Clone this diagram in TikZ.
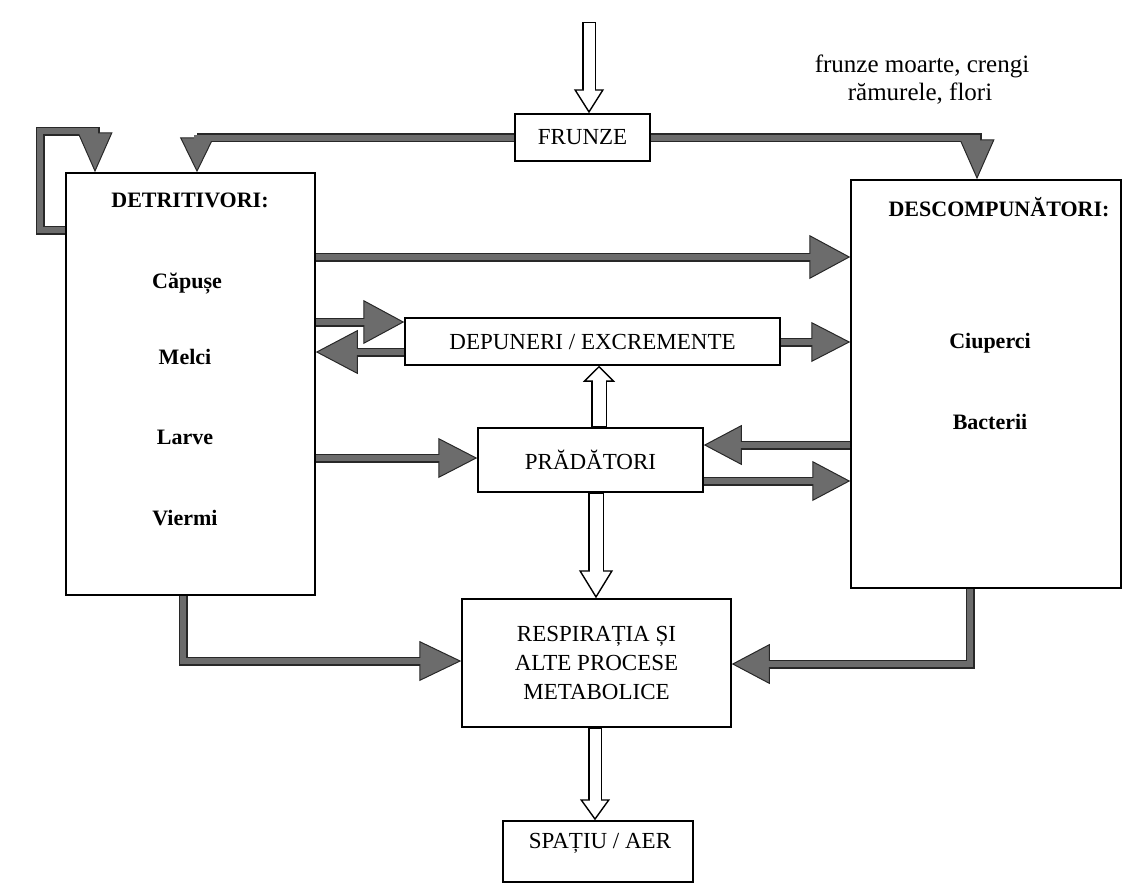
\documentclass[tikz,border=0pt]{standalone}
\usepackage{fontspec}
\setmainfont{Liberation Serif}
\usetikzlibrary{arrows.meta}

\definecolor{bandc}{RGB}{108,108,108}
\definecolor{edgec}{RGB}{40,40,40}

\tikzset{
  box/.style={draw=black, line width=1.5pt, fill=white, inner sep=0pt,
    font=\fontsize{23}{29}\selectfont},
  lbl/.style={inner sep=0pt, font=\fontsize{23}{26}\selectfont},
  lblb/.style={inner sep=0pt, font=\fontsize{22}{26}\selectfont\bfseries},
  note/.style={inner sep=0pt, font=\fontsize{25}{28}\selectfont},
  % grey band with dark edges and a filled triangular head
  flow/.style 2 args={draw=edgec, line width=9pt, line join=miter,
    -{Triangle[length=#1, width=#2, line width=1pt, fill=bandc]},
    postaction={draw=bandc, line width=6pt, -, line join=miter, shorten >=#1-3pt}},
  % open (white) arrow: outer width, inner width, head length, head width
  hollow/.style n args={4}{draw=black, line width=#1,
    -{Triangle[length=#3, width=#4, line width=1.4pt, fill=white]},
    postaction={draw=white, line width=#2, -, shorten >=#3-3pt, shorten <=1.2pt}},
}

\begin{document}
\begin{tikzpicture}[x=1pt, y=-1pt]
\useasboundingbox (0,0) rectangle (1129,887);

% boxes
\node[box, minimum width=135pt, minimum height=47pt] (fr) at (582.5,137.5) {FRUNZE};
\node[box, minimum width=249pt, minimum height=422pt] (det) at (190.5,384) {};
\node[box, minimum width=270pt, minimum height=408pt] (desc) at (986,384) {};
\node[box, minimum width=375pt, minimum height=47pt] (dep) at (592.5,341.5) {DEPUNERI / EXCREMENTE};
\node[box, minimum width=225pt, minimum height=64pt] (pr) at (590.5,460) {PRĂDĂTORI};
\node[box, minimum width=269pt, minimum height=128pt, align=center] (resp) at (596.5,663)
  {RESPIRAȚIA ȘI\\ALTE PROCESE\\METABOLICE};
\node[box, minimum width=190pt, minimum height=61pt] (sp) at (598,851.5) {};
\node[lbl] (spt) at (600,843) {SPAȚIU / AER};

% texts in the two large boxes
\node[lblb, anchor=base] (detT) at (190,207) {DETRITIVORI:};
\node[lblb, anchor=base] (d1) at (187,288) {Căpușe};
\node[lblb, anchor=base] (d2) at (185,364) {Melci};
\node[lblb, anchor=base] (d3) at (185,444) {Larve};
\node[lblb, anchor=base] (d4) at (185,525) {Viermi};

\node[lblb, anchor=base] (descT) at (999,216) {DESCOMPUNĂTORI:};
\node[lblb, anchor=base] (c1) at (990,348) {Ciuperci};
\node[lblb, anchor=base] (c2) at (990,429) {Bacterii};

% source note
\node[note, anchor=base] (n1) at (922,72) {frunze moarte, crengi};
\node[note, anchor=base] (n2) at (920,100) {rămurele, flori};

% helper coordinates
\coordinate (xL) at (197,0);
\coordinate (xR) at (977,0);
\coordinate (lp1) at (40,230);
\coordinate (lp2) at (40,131);
\coordinate (lp3) at (95,131);
\coordinate (y257) at (0,257);
\coordinate (y322) at (0,322);
\coordinate (y352) at (0,352);
\coordinate (y342) at (0,342);
\coordinate (y458) at (0,458);
\coordinate (y445) at (0,445);
\coordinate (y481) at (0,481);
\coordinate (y661) at (0,661);
\coordinate (y664) at (0,664);
\coordinate (xdb) at (183,0);
\coordinate (xdd) at (970,0);
\coordinate (ha) at (589,22);
\coordinate (xb) at (599,0);
\coordinate (xc) at (596,0);
\coordinate (xd) at (595,0);

% leaves to both groups
\draw[flow={35pt}{34pt}] (fr.west) -| (xL |- det.north);
\draw[flow={40pt}{35pt}] (fr.east) -| (xR |- desc.north);
% detritivores feeding on their own
\draw[flow={40pt}{35pt}] (det.west |- lp1) -- (lp1) -- (lp2) -- (lp3) -- (lp3 |- det.north);

% horizontal exchanges
\draw[flow={41pt}{44pt}] (det.east |- y257) -- (desc.west |- y257);
\draw[flow={41pt}{44pt}] (det.east |- y322) -- (dep.west |- y322);
\draw[flow={42pt}{44pt}] (dep.west |- y352) -- (det.east |- y352);
\draw[flow={39pt}{40pt}] (dep.east |- y342) -- (desc.west |- y342);
\draw[flow={39pt}{40pt}] (det.east |- y458) -- (pr.west |- y458);
\draw[flow={38pt}{40pt}] (desc.west |- y445) -- (pr.east |- y445);
\draw[flow={38pt}{40pt}] (pr.east |- y481) -- (desc.west |- y481);

% to respiration
\draw[flow={42pt}{40pt}] (xdb |- det.south) |- (resp.west |- y661);
\draw[flow={38pt}{40pt}] (xdd |- desc.south) |- (resp.east |- y664);

% open arrows
\draw[hollow={14pt}{11pt}{24pt}{30pt}] (ha) -- (ha |- fr.north);
\draw[hollow={16pt}{13pt}{16pt}{32pt}] (xb |- pr.north) -- (xb |- dep.south);
\draw[hollow={16pt}{13pt}{28pt}{34pt}] (xc |- pr.south) -- (xc |- resp.north);
\draw[hollow={14pt}{11pt}{21pt}{30pt}] (xd |- resp.south) -- (xd |- sp.north);
\end{tikzpicture}
\end{document}
